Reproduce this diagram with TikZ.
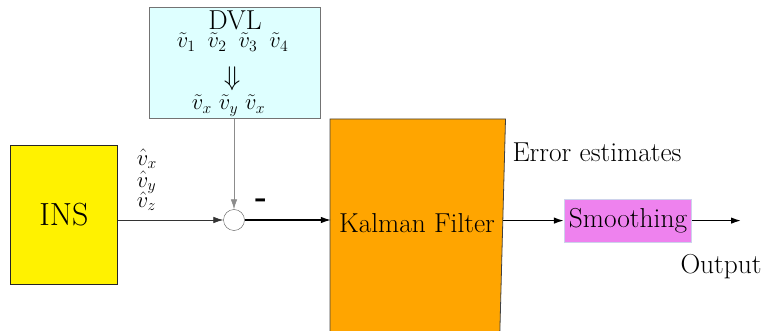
\RequirePackage{fix-cm}
\documentclass[tikz,border=0pt]{standalone}
\usetikzlibrary{arrows.meta}
\definecolor{dvlfill}{RGB}{222,255,255}
\definecolor{kforange}{RGB}{255,165,0}
\definecolor{smviolet}{RGB}{238,130,238}
\definecolor{smborder}{RGB}{205,210,235}
\begin{document}
\begin{tikzpicture}[x=1pt,y=-1pt,
  txt/.style={font=\fontsize{27.4}{32}\selectfont, inner sep=0pt},
  mth/.style={font=\fontsize{22.5}{27}\selectfont, inner sep=0pt},
  arr/.style={-{Latex[length=10pt,width=6.5pt]}},
]
\useasboundingbox (0,0) rectangle (762,331);
% Kalman filter box (cut by the lower edge)
\begin{scope}
  \clip (0,0) rectangle (762,331);
  \path[fill=kforange, draw=black!75, line width=0.8pt]
    (330,119) -- (505.5,119) -- (499.5,345) -- (330,345) -- cycle;
\end{scope}
\node[txt, minimum width=172pt, minimum height=200pt] (kf) at (417,223.6) {Kalman Filter};

% DVL box
\node[draw=black!55, fill=dvlfill, line width=0.7pt, minimum width=171pt, minimum height=111pt,
      anchor=north west, inner sep=0pt] (dvl) at (149,7) {};
\node[txt, align=center, anchor=north] (dvlt) at (232.5,10.1)
  {\hspace*{5pt}DVL\\[-13.3pt]{\fontsize{22.5}{27}\selectfont$\tilde v_1\hspace{12pt}\tilde v_2\hspace{12pt}\tilde v_3\hspace{12pt}\tilde v_4$}};
\node[font=\fontsize{27}{30}\selectfont, inner sep=0pt] (darr) at (232,79) {$\Downarrow$};
\node[mth, anchor=base] (vxyz) at (228.5,110) {$\tilde v_x\hspace{7pt}\tilde v_y\hspace{7pt}\tilde v_x$};

% INS
\node[draw=black!85, fill=yellow, line width=0.8pt, minimum width=106.6pt, minimum height=138.6pt,
      inner sep=0pt, font=\fontsize{32}{38}\selectfont] (ins) at (64,215) {INS};

% summation
\node[circle, draw=black!65, fill=white, minimum size=21pt, inner sep=0pt] (sum) at (234,220) {};

% hat labels
\node[mth, anchor=base west] (hx) at (136.7,165) {$\hat v_x$};
\node[mth, anchor=base west] (hy) at (136.7,187) {$\hat v_y$};
\node[mth, anchor=base west] (hz) at (136.7,207.5) {$\hat v_z$};

% minus sign
\node[inner sep=0pt, anchor=base, font=\fontsize{32}{32}\selectfont\bfseries] (minus) at (261,207) {-};

% Smoothing
\node[txt, draw=smborder, fill=smviolet, line width=0.8pt, minimum width=127.4pt, minimum height=42.7pt] (sm) at (628,220.6) {Smoothing};

% labels
\node[txt, anchor=base west] (err) at (512.3,161.7) {Error estimates};
\node[txt, anchor=base west] (outl) at (680.3,273.3) {Output};
\coordinate (out) at (741,220.6);

% connectors
\draw[arr, black!45, line width=0.7pt] (sum |- dvl.south) -- (sum.north);
\draw[arr, black!80, line width=0.7pt] (ins.east |- sum.west) -- (sum.west);
\draw[arr, black, line width=1.1pt] (sum.east) -- (sum.east -| kf.west);
\draw[arr, black, line width=1.4pt] (kf.east |- sm.west) -- (sm.west);
\draw[arr, black, line width=1.4pt] (sm.east) -- (out);
\end{tikzpicture}
\end{document}
